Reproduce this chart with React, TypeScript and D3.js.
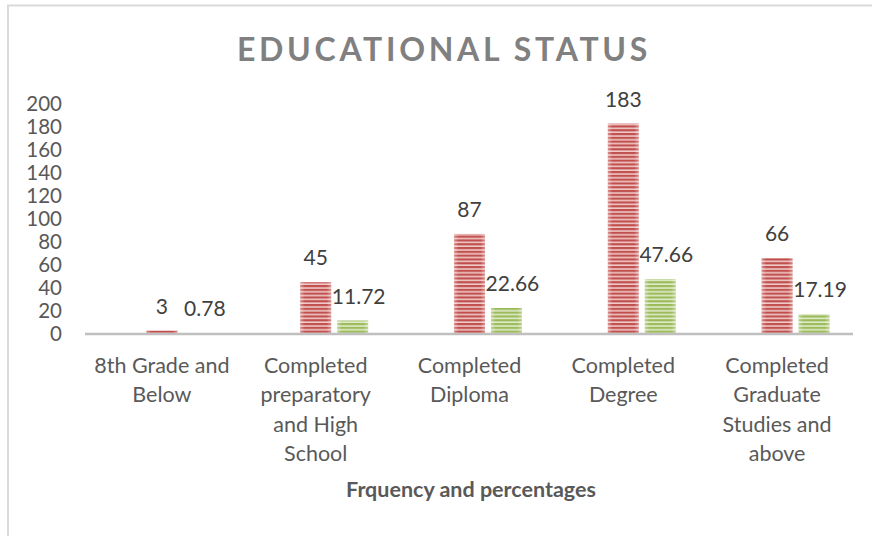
import React from "react";
import * as d3 from "d3";

const categories: string[][] = [
  ["8th Grade and", "Below"],
  ["Completed", "preparatory", "and High", "School"],
  ["Completed", "Diploma"],
  ["Completed", "Degree"],
  ["Completed", "Graduate", "Studies and", "above"],
];
const frequency = [3, 45, 87, 183, 66];
const percentage = [0.78, 11.72, 22.66, 47.66, 17.19];
const yTicks = [0, 20, 40, 60, 80, 100, 120, 140, 160, 180, 200];
const title = "EDUCATIONAL STATUS";
const xTitle = "Frquency and percentages";

const W = 872;
const H = 536;
const FONT = "Lato, 'Open Sans', sans-serif";

export default function App() {
  const x0 = d3
    .scaleBand<number>()
    .domain(categories.map((_, i) => i))
    .range([85, 854])
    .paddingInner(0.318)
    .paddingOuter(0.159);
  const x1 = d3
    .scaleBand<string>()
    .domain(["blank", "freq", "pct"])
    .range([0, x0.bandwidth()])
    .paddingInner(0.162)
    .paddingOuter(0);
  const y = d3.scaleLinear().domain([0, 200]).range([334, 104]);

  const series = [
    { key: "freq", values: frequency, fill: "url(#redStripe)", labelShift: 0 },
    { key: "pct", values: percentage, fill: "url(#greenStripe)", labelShift: 6 },
  ];

  return (
    <svg
      width={W}
      height={H}
      style={{ position: "absolute", left: 0, top: 0, background: "#fff" }}
    >
      <defs>
        <pattern id="redStripe" patternUnits="userSpaceOnUse" width="8" height="3.8">
          <rect x="0" y="0" width="8" height="3.8" fill="#f0c9c8" />
          <rect x="0" y="0" width="8" height="2.2" fill="#c0504d" />
        </pattern>
        <pattern id="greenStripe" patternUnits="userSpaceOnUse" width="8" height="3.8">
          <rect x="0" y="0" width="8" height="3.8" fill="#e1ebcc" />
          <rect x="0" y="0" width="8" height="2.2" fill="#9bbb59" />
        </pattern>
        <linearGradient id="edgeShade" x1="0" x2="1" y1="0" y2="0">
          <stop offset="0" stopColor="#ffffff" stopOpacity="0.35" />
          <stop offset="0.15" stopColor="#ffffff" stopOpacity="0" />
          <stop offset="0.85" stopColor="#ffffff" stopOpacity="0" />
          <stop offset="1" stopColor="#ffffff" stopOpacity="0.35" />
        </linearGradient>
      </defs>
      <rect x={0} y={0} width={W} height={H} fill="#fff" />
      <path d={`M8,${H + 5} V5.5 H${W + 5}`} fill="none" stroke="#d9d9d9" strokeWidth={2} />

      <text
        x={444}
        y={61}
        textAnchor="middle"
        fontFamily={FONT}
        fontWeight="bold"
        fontSize={32}
        fill="#808080"
        letterSpacing={3.7}
      >
        {title}
      </text>

      {yTicks.map((t) => (
        <text
          key={t}
          x={62}
          y={y(t)}
          dy="0.35em"
          textAnchor="end"
          fontFamily={FONT}
          fontSize={20.5}
          fill="#595959"
        >
          {t}
        </text>
      ))}

      {series.map((s) =>
        s.values.map((v, i) => {
          const bx = (x0(i) ?? 0) + (x1(s.key) ?? 0);
          const bw = x1.bandwidth();
          const by = y(v);
          const bh = y(0) - y(v);
          return (
            <g key={s.key + i}>
              <rect x={bx} y={by} width={bw} height={bh} fill={s.fill} />
              <rect x={bx} y={by} width={bw} height={bh} fill="url(#edgeShade)" />
              <text
                x={bx + bw / 2 + s.labelShift}
                y={by - 17}
                textAnchor="middle"
                fontFamily={FONT}
                fontSize={21}
                fill="#404040"
              >
                {v}
              </text>
            </g>
          );
        })
      )}

      <line x1={85} x2={853} y1={y(0)} y2={y(0)} stroke="#bfbfbf" strokeWidth={2.5} />

      {categories.map((lines, i) => {
        const cx = (x0(i) ?? 0) + x0.bandwidth() / 2;
        return (
          <text
            key={i}
            textAnchor="middle"
            fontFamily={FONT}
            fontSize={21.5}
            fill="#595959"
          >
            {lines.map((l, j) => (
              <tspan key={j} x={cx} y={373 + j * 29.3}>
                {l}
              </tspan>
            ))}
          </text>
        );
      })}

      <text
        x={471}
        y={497}
        textAnchor="middle"
        fontFamily={FONT}
        fontWeight="bold"
        fontSize={21.5}
        fill="#595959"
      >
        {xTitle}
      </text>
    </svg>
  );
}
